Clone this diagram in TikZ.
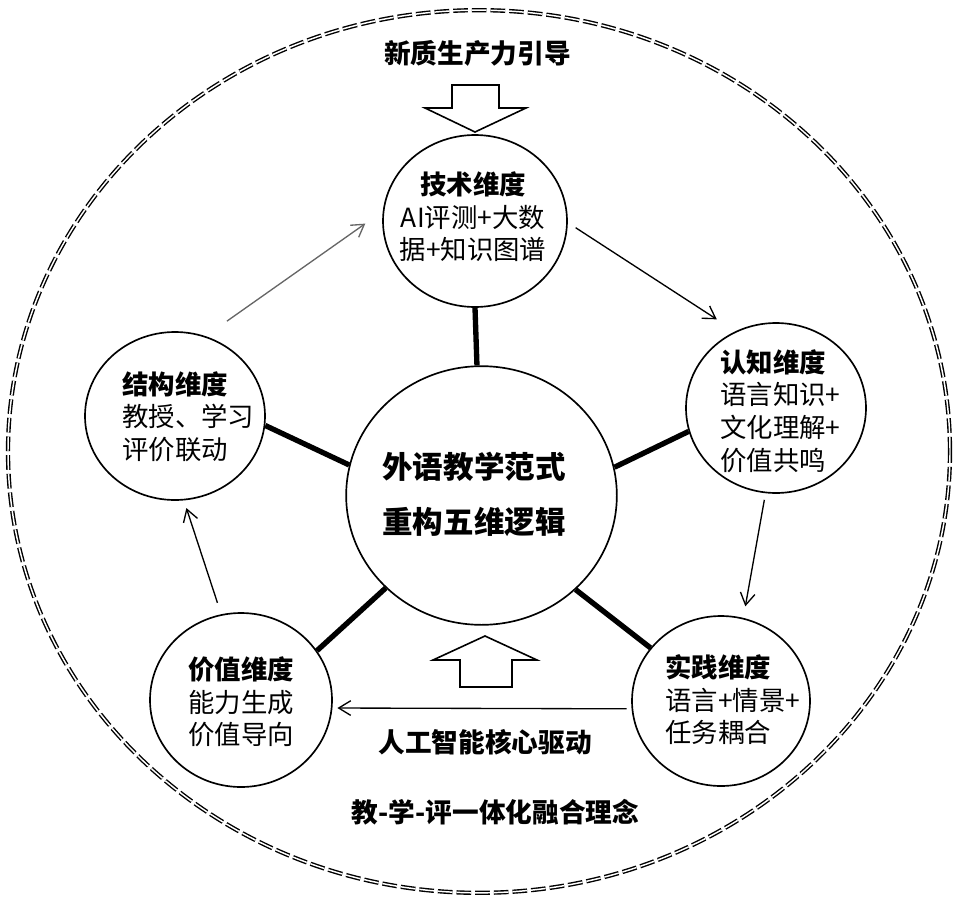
\documentclass[tikz,border=0pt]{standalone}
\usepackage{fontspec}
\setmainfont{Noto Sans CJK SC}
\usetikzlibrary{shapes.geometric,arrows.meta}
\begin{document}
\begin{tikzpicture}[x=0.75pt,y=-0.75pt,
  dim/.style={draw, ellipse, line width=1.25pt, inner sep=0pt},
  spoke/.style={line width=4pt},
  arr/.style={line width=1pt, -{Straight Barb[length=9pt,width=11pt]}},
  txt/.style={inner sep=0pt, align=left, font=\fontsize{19.8}{24.4}\selectfont},
  lab/.style={inner sep=0pt, font=\fontsize{20}{24}\selectfont\bfseries},
  blockarrow/.style={draw, line width=1.2pt, fill=white, line join=miter},
  frame/.style={draw, ellipse, line width=1.05pt, double, double distance=1.1pt, dash pattern=on 11pt off 3pt, inner sep=0pt}
]
\useasboundingbox (0,0) rectangle (961,907);

% outer dashed frame
\node[frame, minimum width=706.5pt, minimum height=662pt] (outer) at (479,451.5) {};

% dimension circles
\node[dim, minimum width=138pt, minimum height=129pt] (tech) at (475,221) {};
\node[dim, minimum width=135pt, minimum height=127.5pt] (cog) at (776,408) {};
\node[dim, minimum width=135pt, minimum height=126pt] (struct) at (175,416) {};
\node[dim, minimum width=136.5pt, minimum height=130.5pt] (value) at (241,700) {};
\node[dim, minimum width=133.5pt, minimum height=127.5pt] (practice) at (721,701) {};
\node[dim, minimum width=203pt, minimum height=194pt] (core) at (481.5,495.5) {};

% spokes
\draw[spoke] (core.92) -- (tech.270);
\draw[spoke] (core.12.5) -- (cog.195);
\draw[spoke] (core.167.5) -- (struct.-6);
\draw[spoke] (core.224.5) -- (value.33);
\draw[spoke] (core.-45) -- (practice.143);

% cycle arrows
\draw[arr, shorten <=7pt, shorten >=16.5pt] (tech.-1) -- (cog.118);
\draw[arr, shorten <=5pt, shorten >=8.8pt] (cog.263) -- (practice.75);
\draw[arr, shorten <=3.75pt, shorten >=3.75pt] (practice.185) -- (value.-5);
\draw[arr, shorten <=9pt, shorten >=6pt] (value.103) -- (struct.-84);
\draw[arr, black!60, shorten <=19.5pt, shorten >=16pt] (struct.69) -- (tech.174);

% block arrows
\draw[blockarrow] (452,85) -- (499,85) -- (499,108) -- (526,108) -- (475,132) -- (425,108) -- (452,108) -- cycle;
\draw[blockarrow] (460,687) -- (512,687) -- (512,660) -- (537,660) -- (485,636) -- (433,660) -- (460,660) -- cycle;

% texts
\node[lab] (title) at (477.5,53) {新质生产力引导};
\node[txt, align=center] (techt) at (473,217) {\textbf{技术维度}\\AI评测+大数\\据+知识图谱};
\node[txt, anchor=west] (cogt) at (720,411) {\textbf{认知维度}\\语言知识+\\文化理解+\\价值共鸣};
\node[txt, anchor=west] (structt) at (122,416.5) {\textbf{结构维度}\\教授、学习\\评价联动};
\node[txt, anchor=west] (valuet) at (188,702) {\textbf{价值维度}\\能力生成\\价值导向};
\node[txt, anchor=west] (practicet) at (665,700) {\textbf{实践维度}\\语言+情景+\\任务耦合};
\node[inner sep=0pt, align=center, font=\fontsize{22.9}{41}\selectfont\bfseries] (coret) at (474,494.5) {外语教学范式\\重构五维逻辑};
\node[lab] (drive) at (485,742) {人工智能核心驱动};
\node[lab] (concept) at (495.5,812) {教-学-评一体化融合理念};
\end{tikzpicture}
\end{document}
